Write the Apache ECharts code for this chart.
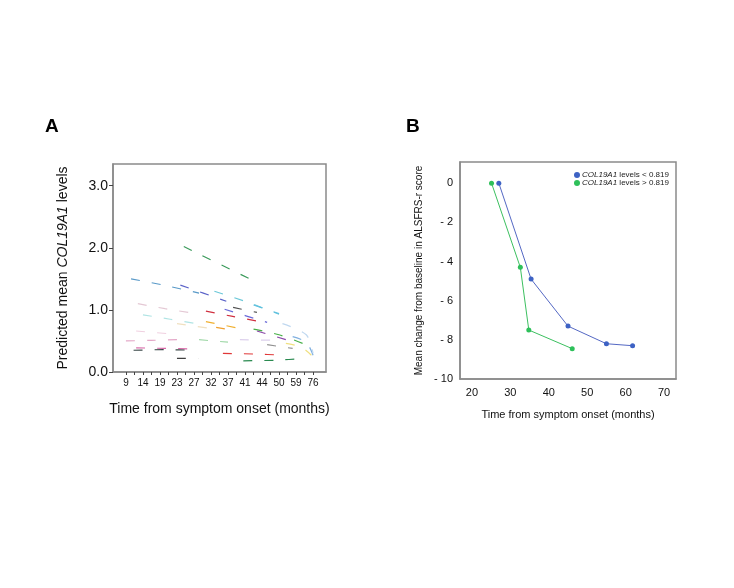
<!DOCTYPE html>
<html><head><meta charset="utf-8">
<script src="https://cdn.jsdelivr.net/npm/echarts@6/dist/echarts.min.js"></script>
<style>html,body{margin:0;padding:0;background:#fff}#c{width:734px;height:588px}</style>
</head><body><div id="c"></div>
<script>
// ---------- Panel A data ----------
const xTickLabelsA = ['9','14','19','23','27','32','37','41','44','50','59','76'];
const yTicksA = [0, 1, 2, 3];
// each trajectory: list of [timeIndex, predictedLevel]
const trajectories = [
  [[3.4,2.02],[7.5,1.47]],
  [[0.3,1.50],[2.2,1.40],[4.3,1.27]],
  [[3.2,1.40],[5.9,1.14]],
  [[5.2,1.30],[7.2,1.12],[9.0,0.93]],
  [[0.7,1.10],[2.3,1.02],[3.9,0.95]],
  [[1.0,0.92],[2.6,0.85],[4.1,0.78]],
  [[6.3,1.04],[7.7,0.96]],
  [[5.8,1.01],[8.3,0.80]],
  [[4.7,0.98],[6.2,0.90],[7.7,0.82]],
  [[4.7,0.81],[7.1,0.68]],
  [[3.0,0.78],[5.0,0.70]],
  [[7.5,0.69],[9.0,0.60],[10.4,0.46]],
  [[7.7,0.66],[9.8,0.49]],
  [[0.6,0.66],[2.8,0.61]],
  [[0.0,0.50],[1.5,0.51],[3.0,0.52]],
  [[0.6,0.39],[2.3,0.38],[4.1,0.37]],
  [[0.45,0.35],[2.3,0.36],[4.1,0.35]],
  [[3.0,0.22],[4.25,0.22]],
  [[5.7,0.30],[7.5,0.29],[9.4,0.27]],
  [[6.9,0.18],[8.8,0.19],[10.6,0.22]],
  [[9.8,0.57],[10.6,0.48],[11.0,0.27]],
  [[9.4,0.46],[10.3,0.40],[10.9,0.27]],
  [[7.5,1.08],[9.0,0.94]],
  [[8.3,0.44],[9.8,0.38]],
  [[6.7,0.52],[9.0,0.51]],
  [[5.3,0.72],[6.5,0.66]],
  [[4.3,0.52],[6.0,0.48]],
  [[9.2,0.78],[10.6,0.60],[11.0,0.30]]
];
const trajColors = ['#3a9a5a','#5a9ac8','#5a62c8','#6cc8d8','#e4c8d4','#b0e4e4','#505050','#6a6ad8','#d03040',
  '#f0b030','#f0e0c0','#48b048','#8a48a8','#f0d0e0','#e4a8c8','#d868a8','#3a4848','#404040','#e03838',
  '#2a8a50','#80b0e0','#f0e080','#60c0e0','#909090','#dcd0ec','#f0a030','#a0d8a8','#c0d8f0'];

// ---------- Panel B data ----------
const bLowX = [27.0, 35.4, 45.0, 55.0, 61.8];
const bLowY = [0, -4.9, -7.3, -8.2, -8.3];
const bHighX = [25.1, 32.6, 34.8, 46.1];
const bHighY = [0, -4.3, -7.5, -8.45];
const bXTicks = [20, 30, 40, 50, 60, 70];
const bYTicks = [0, -2, -4, -6, -8, -10];
const legendNames = ['COL19A1 levels < 0.819', 'COL19A1 levels > 0.819'];

const font = 'Liberation Sans, Arial, sans-serif';
const chart = echarts.init(document.getElementById('c'));

const seriesA = trajectories.map((t, i) => ({
  type: 'line', xAxisIndex: 0, yAxisIndex: 0, data: t, symbol: 'none', silent: true,
  lineStyle: {color: trajColors[i], width: 1.2, type: [9, 12]}, smooth: 0.3
}));
const zip = (a, b) => a.map((v, i) => [v, b[i]]);

chart.setOption({
  animation: false,
  backgroundColor: '#fff',
  textStyle: {fontFamily: font},
  graphic: [
    {type: 'text', left: 45, top: 117, style: {text: 'A', font: 'bold 19px ' + font, fill: '#000'}},
    {type: 'text', left: 406, top: 117, style: {text: 'B', font: 'bold 19px ' + font, fill: '#000'}}
  ],
  grid: [
    {left: 113, top: 164, width: 213, height: 208, show: true, borderColor: '#8a8a8a', borderWidth: 1.5, backgroundColor: 'transparent'},
    {left: 460, top: 162, width: 216, height: 217, show: true, borderColor: '#8a8a8a', borderWidth: 1.5, backgroundColor: 'transparent'}
  ],
  xAxis: [
    {type: 'value', gridIndex: 0, min: -0.76, max: 11.76, splitLine: {show: false},
     axisLine: {onZero: false, lineStyle: {color: '#8a8a8a', width: 1.5}},
     axisTick: {show: true, length: 3, lineStyle: {color: '#444'}, customValues: Array.from({length: 23}, (_, k) => k * 0.5)},
     axisLabel: {customValues: xTickLabelsA.map((_, i) => i), formatter: v => xTickLabelsA[Math.round(v)], color: '#111', fontSize: 10, margin: 6},
     name: 'Time from symptom onset (months)', nameLocation: 'middle', nameGap: 30,
     nameTextStyle: {fontSize: 14, color: '#111'}},
    {type: 'value', gridIndex: 1, min: 16.9, max: 73.1, splitLine: {show: false},
     axisLine: {onZero: false, lineStyle: {color: '#8a8a8a', width: 1.5}},
     axisTick: {show: false},
     axisLabel: {customValues: bXTicks, color: '#111', fontSize: 11, margin: 8},
     name: 'Time from symptom onset (months)', nameLocation: 'middle', nameGap: 30,
     nameTextStyle: {fontSize: 11, color: '#111'}}
  ],
  yAxis: [
    {type: 'value', gridIndex: 0, min: 0, max: 3.35, splitLine: {show: false},
     axisLine: {onZero: false, lineStyle: {color: '#8a8a8a', width: 1.5}},
     axisTick: {show: true, length: 4, customValues: yTicksA, lineStyle: {color: '#444'}},
     axisLabel: {customValues: yTicksA, formatter: v => v.toFixed(1), color: '#111', fontSize: 14, margin: 5},
     name: '{n|Predicted mean }{i|COL19A1}{n| levels}', nameLocation: 'middle', nameGap: 43,
     nameTextStyle: {rich: {n: {fontSize: 14, color: '#111', fontFamily: font}, i: {fontSize: 14, color: '#111', fontStyle: 'italic', fontFamily: font}}}},
    {type: 'value', gridIndex: 1, min: -10, max: 1.08, splitLine: {show: false},
     axisLine: {onZero: false, lineStyle: {color: '#8a8a8a', width: 1.5}},
     axisTick: {show: false},
     axisLabel: {customValues: bYTicks, formatter: v => v === 0 ? '0' : '- ' + Math.abs(v), color: '#111', fontSize: 11, margin: 7},
     name: 'Mean change from baseline in ALSFRS-r score', nameLocation: 'middle', nameGap: 36,
     nameTextStyle: {fontSize: 10, color: '#111'}}
  ],
  legend: {
    data: legendNames, orient: 'vertical', left: 569, top: 166, itemGap: 0, itemWidth: 6, itemHeight: 6,
    icon: 'circle', selectedMode: false,
    formatter: n => '{i|COL19A1}' + n.replace('COL19A1', ''),
    textStyle: {fontSize: 8, color: '#222', padding: [0, 0, 0, -3], rich: {i: {fontSize: 8, fontStyle: 'italic', color: '#222'}}}
  },
  series: seriesA.concat([
    {name: legendNames[0], type: 'line', xAxisIndex: 1, yAxisIndex: 1, data: zip(bLowX, bLowY),
     symbol: 'circle', symbolSize: 5, itemStyle: {color: '#3d62c4'}, lineStyle: {color: '#5468c4', width: 1}},
    {name: legendNames[1], type: 'line', xAxisIndex: 1, yAxisIndex: 1, data: zip(bHighX, bHighY),
     symbol: 'circle', symbolSize: 5, itemStyle: {color: '#2ec05a'}, lineStyle: {color: '#3cc060', width: 1}}
  ])
});
</script></body></html>
